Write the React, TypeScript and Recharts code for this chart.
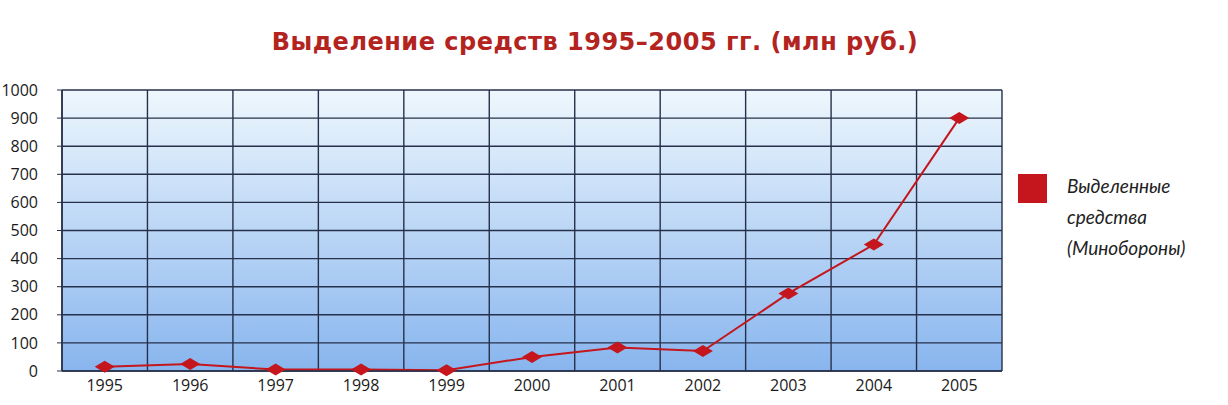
import { LineChart, Line, XAxis, YAxis, CartesianGrid } from 'recharts';

const years = [1995, 1996, 1997, 1998, 1999, 2000, 2001, 2002, 2003, 2004, 2005];
const funds = [15, 25, 5, 5, 3, 50, 84, 71, 276, 450, 900];
const yTicks = [0, 100, 200, 300, 400, 500, 600, 700, 800, 900, 1000];

const seriesName = 'Выделенные средства (Минобороны)';
const legendLines = ['Выделенные', 'средства', '(Минобороны)'];

const data = years.map((year, i) => ({ year, value: funds[i] }));
// band edges for the vertical grid, halfway between years
const bandEdges = [...years.map((y) => y - 0.5), years[years.length - 1] + 0.5];

const RED = '#c4161c';
const GRID = '#27304a';

// eslint-disable-next-line @typescript-eslint/no-explicit-any
const Diamond = ({ cx, cy }: any) => {
  if (cx == null || cy == null) return null;
  return (
    <polygon
      points={`${cx - 10},${cy} ${cx},${cy - 6} ${cx + 10},${cy} ${cx},${cy + 6}`}
      fill={RED}
    />
  );
};

export default function App() {
  return (
    <div style={{ position: 'absolute', left: 0, top: 0, width: 1228, height: 405, background: '#fff' }}>
      <div
        style={{
          position: 'absolute',
          left: 0,
          width: 1190,
          top: 28,
          textAlign: 'center',
          fontFamily: 'DejaVu Sans, sans-serif',
          fontWeight: 700,
          fontSize: 24,
          letterSpacing: 0.5,
          color: '#b3241f',
        }}
      >
        Выделение средств 1995–2005 гг. (млн руб.)
      </div>

      <LineChart width={1228} height={405} data={data} margin={{ top: 90, right: 226, bottom: 4, left: 0 }}>
        <defs>
          <linearGradient id="plotBg" x1="0" y1="0" x2="0" y2="1">
            <stop offset="0%" stopColor="#eef7fd" />
            <stop offset="100%" stopColor="#88b5ee" />
          </linearGradient>
        </defs>
        <CartesianGrid
          fill="url(#plotBg)"
          fillOpacity={1}
          stroke={GRID}
          strokeWidth={1.4}
          verticalValues={bandEdges}
          horizontalValues={yTicks}
        />
        <XAxis
          dataKey="year"
          type="number"
          domain={[bandEdges[0], bandEdges[bandEdges.length - 1]]}
          ticks={years}
          height={30}
          axisLine={{ stroke: GRID, strokeWidth: 1.5 }}
          tickLine={false}
          tickMargin={3}
          tick={{ fill: '#1a1a1a', fontSize: 16, fontFamily: 'Open Sans, sans-serif' }}
          interval={0}
        />
        <YAxis
          width={62}
          domain={[0, 1000]}
          ticks={yTicks}
          interval={0}
          axisLine={{ stroke: GRID, strokeWidth: 1.5 }}
          tickLine={{ stroke: GRID }}
          tickSize={5}
          tickMargin={19}
          tick={{ fill: '#1a1a1a', fontSize: 16, fontFamily: 'Open Sans, sans-serif' }}
        />
        <Line
          type="linear"
          dataKey="value"
          name={seriesName}
          stroke={RED}
          strokeWidth={2}
          dot={<Diamond />}
          activeDot={false}
          isAnimationActive={false}
        />
      </LineChart>

      {/* legend, placed by hand to the right of the plot */}
      <div style={{ position: 'absolute', left: 1018, top: 173, display: 'flex', alignItems: 'flex-start', fontFamily: 'Lato, sans-serif' }}>
        <div style={{ width: 29, height: 29, background: RED, marginTop: 1 }} />
        <div style={{ marginLeft: 20, fontStyle: 'italic', fontSize: 19, lineHeight: '31px', color: '#222', marginTop: -3 }}>
          {legendLines.map((l) => (
            <div key={l}>{l}</div>
          ))}
        </div>
      </div>
    </div>
  );
}
